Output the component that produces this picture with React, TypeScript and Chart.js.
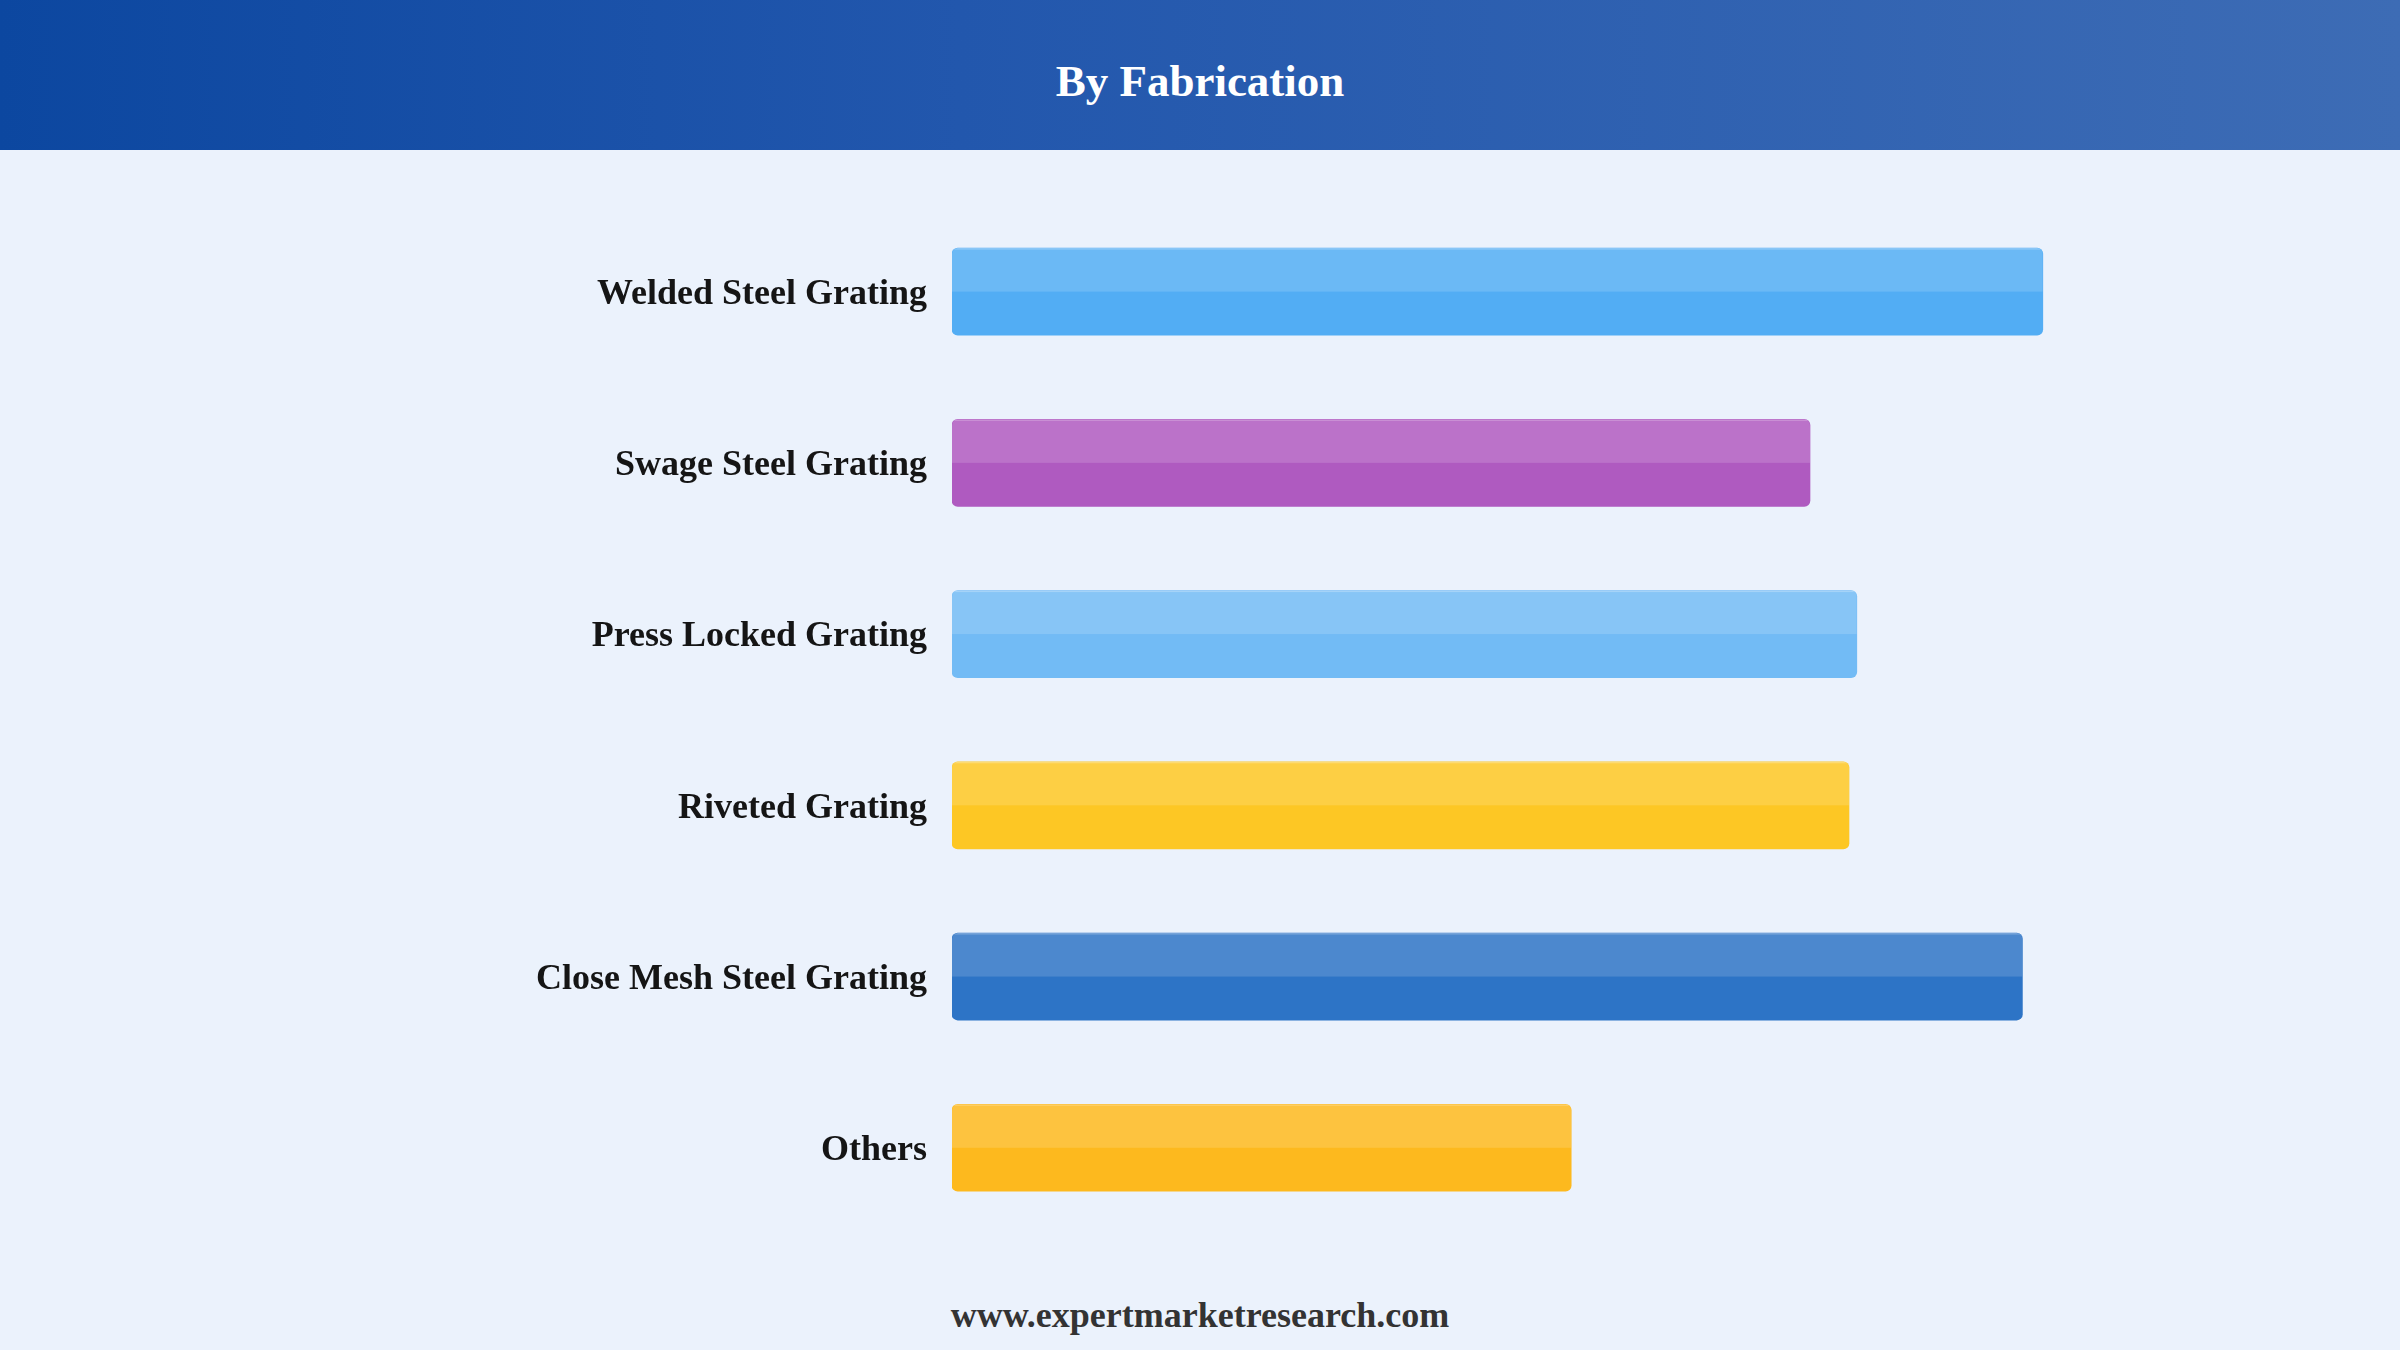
import React, { useEffect, useRef } from "react";
import { Chart, registerables } from "chart.js";

Chart.register(...registerables);

const TITLE = "By Fabrication";
const FOOTER = "www.expertmarketresearch.com";
const categories = [
  "Welded Steel Grating",
  "Swage Steel Grating",
  "Press Locked Grating",
  "Riveted Grating",
  "Close Mesh Steel Grating",
  "Others",
];
const values = [90.9, 71.5, 75.4, 74.75, 89.2, 51.6];
const barColors = ["#52ADF4", "#AF5AC0", "#72BBF5", "#FDC724", "#2D74C6", "#FDB91E"];

const FONT = '"Liberation Serif", "Times New Roman", serif';

const highlightPlugin = {
  id: "barHighlight",
  afterDatasetsDraw(chart: any) {
    const ctx = chart.ctx;
    const meta = chart.getDatasetMeta(0);
    meta.data.forEach((el: any) => {
      const { x, y, base, height } = el.getProps(["x", "y", "base", "height"], true);
      const left = Math.min(x, base);
      const right = Math.max(x, base);
      const top = y - height / 2;
      const r = 6;
      ctx.save();
      ctx.beginPath();
      if ((ctx as any).roundRect) {
        (ctx as any).roundRect(left, top, right - left, height, r);
      } else {
        ctx.rect(left, top, right - left, height);
      }
      ctx.clip();
      ctx.fillStyle = "rgba(255,255,255,0.15)";
      ctx.fillRect(left, top, right - left, height / 2);
      ctx.fillStyle = "rgba(255,255,255,0.25)";
      ctx.fillRect(left, top, right - left, 1.5);
      ctx.restore();
    });
  },
};

export default function App() {
  const canvasRef = useRef<HTMLCanvasElement | null>(null);

  useEffect(() => {
    document.body.style.margin = "0";
    document.body.style.background = "#EBF2FC";
    const canvas = canvasRef.current;
    if (!canvas) return;
    const chart = new Chart(canvas, {
      type: "bar",
      data: {
        labels: categories,
        datasets: [
          {
            data: values,
            backgroundColor: barColors,
            borderRadius: 6,
            borderSkipped: false,
            barThickness: 87,
          },
        ],
      },
      options: {
        indexAxis: "y",
        animation: false,
        responsive: false,
        maintainAspectRatio: false,
        layout: { padding: { top: 56, bottom: 45, left: 0, right: 248 } },
        plugins: {
          legend: { display: false },
          tooltip: { enabled: false },
          title: { display: false },
        },
        scales: {
          x: {
            display: false,
            min: 0,
            max: 100,
          },
          y: {
            grid: { display: false, drawTicks: false },
            border: { display: false },
            afterFit(scale: any) {
              scale.width = 952;
            },
            ticks: {
              padding: 25,
              labelOffset: 3,
              color: "#151515",
              font: { family: FONT, size: 36, weight: "bold" },
            },
          },
        },
      },
      plugins: [highlightPlugin],
    });
    return () => chart.destroy();
  }, []);

  return (
    <div
      style={{
        position: "absolute",
        left: 0,
        top: 0,
        width: 2400,
        height: 1350,
        background: "#EBF2FC",
        overflow: "hidden",
      }}
    >
      <div
        style={{
          position: "absolute",
          left: 0,
          top: 0,
          width: 2400,
          height: 150,
          background: "linear-gradient(90deg, #0C47A0 0%, #2257AD 40%, #3D6CB5 100%)",
          display: "flex",
          alignItems: "center",
          justifyContent: "center",
          color: "#ffffff",
          fontFamily: FONT,
          fontWeight: "bold",
          fontSize: 45,
          paddingTop: 12,
          boxSizing: "border-box",
        }}
      >
        {TITLE}
      </div>
      <canvas
        ref={canvasRef}
        width={2400}
        height={1130}
        style={{ position: "absolute", left: 0, top: 150, width: 2400, height: 1130 }}
      />
      <div
        style={{
          position: "absolute",
          left: 0,
          top: 1290,
          width: 2400,
          height: 50,
          display: "flex",
          alignItems: "center",
          justifyContent: "center",
          color: "#333333",
          fontFamily: FONT,
          fontWeight: "bold",
          fontSize: 36,
        }}
      >
        {FOOTER}
      </div>
    </div>
  );
}
